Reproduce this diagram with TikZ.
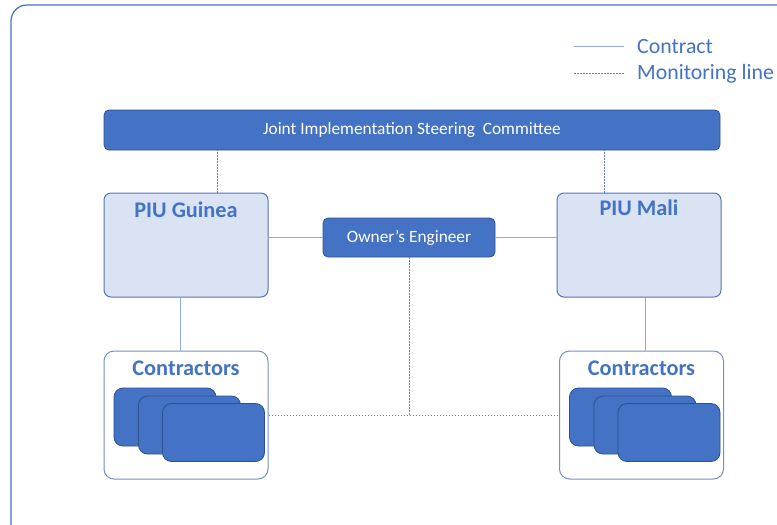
\documentclass[tikz,border=0pt]{standalone}
\usepackage{fontspec}
\setmainfont{Carlito}
\usetikzlibrary{positioning}

\definecolor{darkfill}{HTML}{4472C4}
\definecolor{darkline}{HTML}{2F528F}
\definecolor{lightfill}{HTML}{DAE3F3}
\definecolor{lightline}{HTML}{5275B5}
\definecolor{conline}{HTML}{8FAADC}
\definecolor{textblue}{HTML}{4472C4}
\definecolor{dotblue}{HTML}{5A80CC}

\tikzset{
    darkbox/.style={draw=darkline, fill=darkfill, rounded corners=5pt, line width=0.8pt, text=white, font=\fontsize{17.3}{19}\selectfont},
    piubox/.style={draw=lightline, fill=lightfill, rounded corners=7pt, line width=1pt, minimum width=164pt, minimum height=104pt},
    groupbox/.style={draw=lightline!80, fill=white, rounded corners=10pt, line width=1pt, minimum width=164pt, minimum height=128pt},
    cardbox/.style={draw=darkline, fill=darkfill, rounded corners=9pt, line width=0.8pt, minimum width=102pt, minimum height=58pt},
    title/.style={text=textblue, font=\fontsize{22.3}{24}\selectfont\bfseries},
    legend/.style={anchor=west, text=textblue, font=\fontsize{21.8}{24}\selectfont, inner sep=0pt},
    contract/.style={draw=conline, line width=1pt},
    monitor/.style={draw=dotblue, line width=0.8pt, dash pattern=on 1.5pt off 1.5pt}
}

\begin{document}
\begin{tikzpicture}[x=1pt, y=-1pt]
        \useasboundingbox (0,0) rectangle (777,525);
        \begin{scope}
            \clip (0,0) rectangle (777,525);
            \draw[draw=darkfill, line width=1.2pt, rounded corners=16pt] (11,5) rectangle (800,545);
        \end{scope}
        % legend
        \coordinate (leg_a) at (574,46);
        \coordinate (leg_b) at (624,46);
        \coordinate (leg_c) at (574,73);
        \coordinate (leg_d) at (624,73);
        \draw[contract] (leg_a) -- (leg_b);
        \draw[monitor] (leg_c) -- (leg_d);
        \node[legend] (leg_contract) at (637,47) {Contract};
        \node[legend] (leg_monitor) at (637,74) {Monitoring line};
        % boxes
        \node[darkbox, minimum width=616pt, minimum height=40pt] (jisc) at (412,130) {Joint Implementation Steering \ Committee};
        \node[piubox] (piu_guinea) at (186,245) {};
        \node[piubox] (piu_mali) at (639,245) {};
        \node[title] at ([yshift=-17pt]piu_guinea.north) {PIU Guinea};
        \node[title] at ([yshift=-15pt]piu_mali.north) {PIU Mali};
        \node[darkbox, minimum width=172pt, minimum height=39pt] (oe) at (409,237.5) {Owner’s Engineer};
        \node[groupbox] (con_guinea) at (186,415) {};
        \node[groupbox] (con_mali) at (641.5,415) {};
        \node[title] at ([yshift=-18pt]con_guinea.north) {Contractors};
        \node[title] at ([yshift=-18pt]con_mali.north) {Contractors};
        \foreach \i/\dx/\dy in {1/0/0, 2/24.5/8, 3/48.5/15.5} {
            \node[cardbox] (card_g\i) at (165+\dx,417+\dy) {};
            \node[cardbox] (card_m\i) at (620.5+\dx,417+\dy) {};
        }
        % lines
        \draw[monitor] ([xshift=31pt]piu_guinea.north) -- ([xshift=31pt]piu_guinea.north |- jisc.south);
        \draw[monitor] ([xshift=-35pt]piu_mali.north) -- ([xshift=-35pt]piu_mali.north |- jisc.south);
        \draw[contract] (oe.west) -- (oe.west -| piu_guinea.east);
        \draw[contract] (oe.east) -- (oe.east -| piu_mali.west);
        \draw[contract] ([xshift=-6pt]piu_guinea.south) -- ([xshift=-6pt]piu_guinea.south |- con_guinea.north);
        \draw[contract] ([xshift=6pt]piu_mali.south) -- ([xshift=6pt]piu_mali.south |- con_mali.north);
        \draw[monitor] (oe.south) -- (oe.south |- con_guinea.east);
        \draw[monitor] (con_guinea.east) -- (con_mali.west);
\end{tikzpicture}
\end{document}
